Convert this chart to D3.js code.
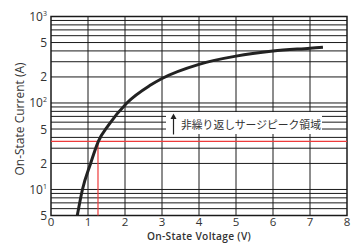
<!DOCTYPE html>
<html>
<head>
<meta charset="utf-8">
<script src="https://cdn.jsdelivr.net/npm/d3@7"></script>
<style>
  body { margin: 0; background: #fff; }
  svg { display: block; }
</style>
</head>
<body>
<svg id="chart" width="352" height="243"></svg>
<script>
(function() {

  // curve
  var voltage = [0.71, 0.85, 1.07, 1.28, 1.55, 2.05, 2.68, 3.0, 4.0, 5.0, 6.0, 7.0, 7.35];
  var current = [5, 10, 20, 36, 55, 100, 160, 192, 280, 348, 398, 430, 442];

  var xTicks = [0, 1, 2, 3, 4, 5, 6, 7, 8];
  var yTicks = [1000, 500, 200, 100, 50, 20, 10, 5];
  var yTickBase = ["10", "5", "2", "10", "5", "2", "10", "5"];
  var yTickSup = ["3", "", "", "2", "", "", "1", ""];

  var markV = 1.27,
      markI = 36;

  var noteText = "非繰り返しサージピーク領域";

  var svg = d3.select("#chart");

  var x = d3.scaleLinear()
      .domain([0, 8])
      .range([51, 347]);

  var y = d3.scaleLog()
      .domain([5, 1000])
      .range([215.5, 16.5]);

  var font = "'Open Sans', 'Noto Sans', sans-serif";

  // minor grid: 2..9 of each decade
  var gridY = [];
  [1, 10, 100].forEach(d => {
    d3.range(1, 10).forEach(m => {
      var v = d * m;
      if (v > 5 && v < 1000) gridY.push(v);
    });
  });

  var grid = svg.append("g");

  grid.selectAll(".hy")
      .data(gridY)
    .enter().append("line")
      .attr("x1", x(0))
      .attr("x2", x(8))
      .attr("y1", d => y(d))
      .attr("y2", d => y(d))
      .attr("stroke", "#1a1a1a")
      .attr("stroke-width", 1);

  grid.selectAll(".vx")
      .data(xTicks.slice(1, -1))
    .enter().append("line")
      .attr("x1", d => x(d))
      .attr("x2", d => x(d))
      .attr("y1", y(1000))
      .attr("y2", y(5))
      .attr("stroke", "#1a1a1a")
      .attr("stroke-width", 1);

  // frame
  svg.append("rect")
      .attr("x", x(0))
      .attr("y", y(1000))
      .attr("width", x(8) - x(0))
      .attr("height", y(5) - y(1000))
      .attr("fill", "none")
      .attr("stroke", "#1a1a1a")
      .attr("stroke-width", 1.5);

  // red marker lines
  svg.append("line")
      .attr("x1", x(0))
      .attr("x2", x(8))
      .attr("y1", y(markI))
      .attr("y2", y(markI))
      .attr("stroke", "#ee3b3b")
      .attr("stroke-width", 1.2);

  svg.append("line")
      .attr("x1", x(markV))
      .attr("x2", x(markV))
      .attr("y1", y(markI))
      .attr("y2", y(5))
      .attr("stroke", "#ee3b3b")
      .attr("stroke-width", 1.2);

  // annotation box
  var note = svg.append("g");

  note.append("rect")
      .attr("x", 166)
      .attr("y", 112)
      .attr("width", 156)
      .attr("height", 22)
      .attr("fill", "#fff");

  note.append("line")
      .attr("x1", 173.5)
      .attr("x2", 173.5)
      .attr("y1", 134.5)
      .attr("y2", 118)
      .attr("stroke", "#222")
      .attr("stroke-width", 1.2);

  note.append("path")
      .attr("d", "M170.5,119 L173.5,113.5 L176.5,119 Z")
      .attr("fill", "#222");

  note.append("text")
      .attr("x", 181)
      .attr("y", 129)
      .style("font", "10.8px 'Noto Sans CJK JP', sans-serif")
      .attr("fill", "#333")
      .text(noteText);

  // curve
  var line = d3.line()
      .x(d => x(d[0]))
      .y(d => y(d[1]))
      .curve(d3.curveMonotoneX);

  svg.append("path")
      .datum(d3.zip(voltage, current))
      .attr("d", line)
      .attr("fill", "none")
      .attr("stroke", "#222")
      .attr("stroke-width", 3);

  // x tick labels
  svg.selectAll(".xt")
      .data(xTicks)
    .enter().append("text")
      .attr("x", d => x(d))
      .attr("y", 225.5)
      .attr("text-anchor", "middle")
      .style("font", "11.5px " + font)
      .attr("fill", "#333")
      .text(d => d);

  // y tick labels
  var yt = svg.selectAll(".yt")
      .data(yTicks)
    .enter().append("text")
      .attr("x", 47)
      .attr("y", d => y(d) + 4.5)
      .attr("text-anchor", "end")
      .style("font", "12px " + font)
      .attr("fill", "#333");

  yt.append("tspan")
      .text((d, i) => yTickBase[i]);

  yt.append("tspan")
      .attr("dy", -5)
      .style("font-size", "7px")
      .text((d, i) => yTickSup[i]);

  // axis titles
  svg.append("text")
      .attr("transform", "translate(24,119) rotate(-90)")
      .attr("text-anchor", "middle")
      .style("font", "12px " + font)
      .attr("fill", "#333")
      .text("On-State Current (A)");

  svg.append("text")
      .attr("x", 199)
      .attr("y", 240)
      .attr("text-anchor", "middle")
      .style("font", "600 10.2px " + font)
      .style("letter-spacing", "0.3px")
      .attr("fill", "#333")
      .text("On-State Voltage (V)");

})();
</script>
</body>
</html>
